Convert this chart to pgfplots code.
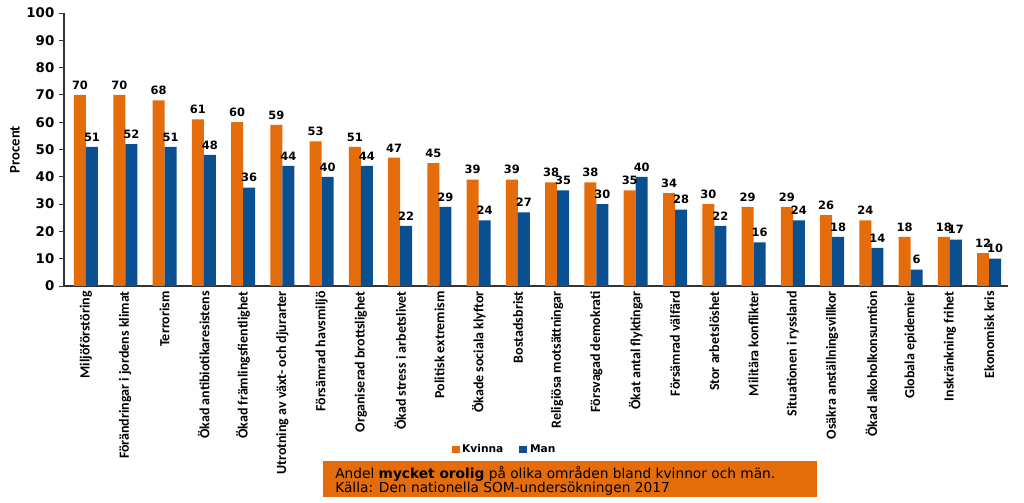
\documentclass[border=0pt]{standalone}
\usepackage{pgfplots}
\pgfplotsset{compat=1.18}
\usepackage{fontspec}
\setmainfont{Carlito}
\newfontfamily\dejab{DejaVu Sans}
\definecolor{kv}{HTML}{E46C0A}
\definecolor{ma}{HTML}{0A4F8F}
\begin{document}
\begin{tikzpicture}
\useasboundingbox (0,0) rectangle (768pt,377.25pt);
\begin{axis}[
  scale only axis,
  width=708pt, height=204.75pt,
  at={(48pt,162.75pt)}, anchor=south west,
  ybar=0pt, bar width=9pt,
  xmin=-0.56, xmax=23.48,
  ymin=0, ymax=100,
  ytick={0,10,...,100},
  xtick={0,...,23},
  xticklabels={Miljöförstöring,Förändringar i jordens klimat,Terrorism,Ökad antibiotikaresistens,Ökad främlingsfientlighet,Utrotning av växt- och djurarter,Försämrad havsmiljö,Organiserad brottslighet,Ökad stress i arbetslivet,Politisk extremism,Ökade sociala klyftor,Bostadsbrist,Religiösa motsättningar,Försvagad demokrati,Ökat antal flyktingar,Försämrad välfärd,Stor arbetslöshet,Militära konflikter,Situationen i ryssland,Osäkra anställningsvillkor,Ökad alkoholkonsumtion,Globala epidemier,Inskränkning frihet,Ekonomisk kris},
  xticklabel style={rotate=90, anchor=east, font=\bfseries\fontsize{10.5}{11}\selectfont, inner sep=1pt, xshift=1pt},
  yticklabel style={font=\dejab\bfseries\fontsize{10}{11}\selectfont},
  /pgf/number format/assume math mode=true,
  axis x line*=bottom, axis y line*=left,
  axis line style={-, black!80, line width=0.8pt},
  tick align=outside,
  major tick length=3.75pt,
  xtick style={draw=none},
  ytick style={black!80, line width=0.6pt},
  ylabel={Procent},
  ylabel style={at={(axis description cs:-0.052,0.5)}, anchor=center, font=\bfseries\fontsize{11}{12}\selectfont},
  nodes near coords,
  nodes near coords style={font=\dejab\bfseries\fontsize{8.6}{9}\selectfont, anchor=south, yshift=3pt, inner sep=1pt},
  legend style={at={(0.467,-0.60)}, anchor=center, draw=none, fill=none,
    legend columns=2, font=\dejab\bfseries\fontsize{8}{9}\selectfont,
    /tikz/every even column/.append style={column sep=10pt}},
  legend image code/.code={\fill[#1] (0pt,-2.5pt) rectangle (6pt,2.5pt);},
]
\addplot[fill=kv, draw=none] coordinates {(0,70) (1,70) (2,68) (3,61) (4,60) (5,59) (6,53) (7,51) (8,47) (9,45) (10,39) (11,39) (12,38) (13,38) (14,35) (15,34) (16,30) (17,29) (18,29) (19,26) (20,24) (21,18) (22,18) (23,12)};
\addplot[fill=ma, draw=none] coordinates {(0,51) (1,52) (2,51) (3,48) (4,36) (5,44) (6,40) (7,44) (8,22) (9,29) (10,24) (11,27) (12,35) (13,30) (14,40) (15,28) (16,22) (17,16) (18,24) (19,18) (20,14) (21,6) (22,17) (23,10)};
\legend{Kvinna, Man}
\end{axis}
\fill[kv] (242.25pt,4.5pt) rectangle (612.75pt,31.5pt);
\node[anchor=base west, inner sep=0pt, font=\dejab\fontsize{10.3}{11}\selectfont] at (251.25pt,18pt) {Andel \textbf{mycket orolig} på olika områden bland kvinnor och män.};
\node[anchor=base west, inner sep=0pt, font=\dejab\fontsize{10.3}{11}\selectfont] at (251.25pt,7.5pt) {Källa: Den nationella SOM-undersökningen 2017};
\end{tikzpicture}
\end{document}
